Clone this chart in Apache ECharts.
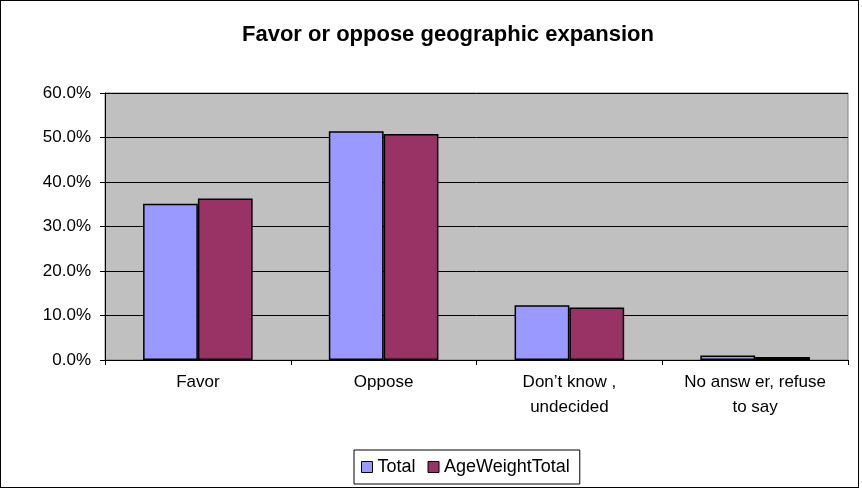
<!DOCTYPE html>
<html><head><meta charset="utf-8">
<script src="https://cdn.jsdelivr.net/npm/echarts@6/dist/echarts.min.js"></script>
<style>html,body{margin:0;padding:0;background:#fff}#c{width:859px;height:488px;box-sizing:border-box;border:1px solid #000}</style>
</head><body><div id="c"></div>
<script>
const categories = ["Favor", "Oppose", "Don\u2019t know ,\nundecided", "No answ er, refuse\nto say"];
const totalValues = [35.1, 51.4, 12.3, 1.0];
const ageWeightValues = [36.3, 50.8, 11.8, 0.7];
const yTicks = [0, 10, 20, 30, 40, 50, 60];
const seriesNames = ["Total", "AgeWeightTotal"];

const chart = echarts.init(document.getElementById('c'));
const font = 'Liberation Sans, Arial, sans-serif';
chart.setOption({
  animation: false,
  backgroundColor: '#fff',
  title: { text: 'Favor or oppose geographic expansion', left: 236, top: 18,
    textStyle: { fontFamily: font, fontSize: 22, fontWeight: 'bold', color: '#000' } },
  legend: { bottom: 3, left: 353, itemWidth: 11, itemHeight: 11, itemGap: 12,
    borderColor: '#000', borderWidth: 1, padding: [8, 10, 8, 7],
    textStyle: { fontFamily: font, fontSize: 18, color: '#000', padding: [0, 0, 0, 0] },
    data: seriesNames.map(n => ({ name: n, icon: 'rect', itemStyle: { borderColor: '#000', borderWidth: 1 } })) },
  grid: { left: 104, right: 10, top: 92, bottom: 127, show: true, backgroundColor: '#C0C0C0', borderColor: '#808080', borderWidth: 1 },
  xAxis: { type: 'category', data: categories,
    axisLine: { lineStyle: { color: '#000' } },
    axisTick: { show: true, length: 5, lineStyle: { color: '#000' } },
    axisLabel: { fontFamily: font, fontSize: 17, color: '#000', margin: 10, lineHeight: 25, interval: 0 } },
  yAxis: { type: 'value', min: 0, max: 60, interval: 10,
    axisLine: { show: true, lineStyle: { color: '#000' } },
    axisTick: { show: true, length: 5, lineStyle: { color: '#000' } },
    splitLine: { lineStyle: { color: '#000', width: 1 } },
    axisLabel: { fontFamily: font, fontSize: 17, color: '#000', margin: 14,
      formatter: v => yTicks.includes(v) ? v.toFixed(1) + '%' : '' } },
  series: [
    { name: seriesNames[0], type: 'bar', data: totalValues, barGap: '0%', barCategoryGap: '41%',
      itemStyle: { color: '#9999FF', borderColor: '#000', borderWidth: 1.5 } },
    { name: seriesNames[1], type: 'bar', data: ageWeightValues, barGap: '0%', barCategoryGap: '41%',
      itemStyle: { color: '#993366', borderColor: '#000', borderWidth: 1.5 } }
  ]
});
</script></body></html>
